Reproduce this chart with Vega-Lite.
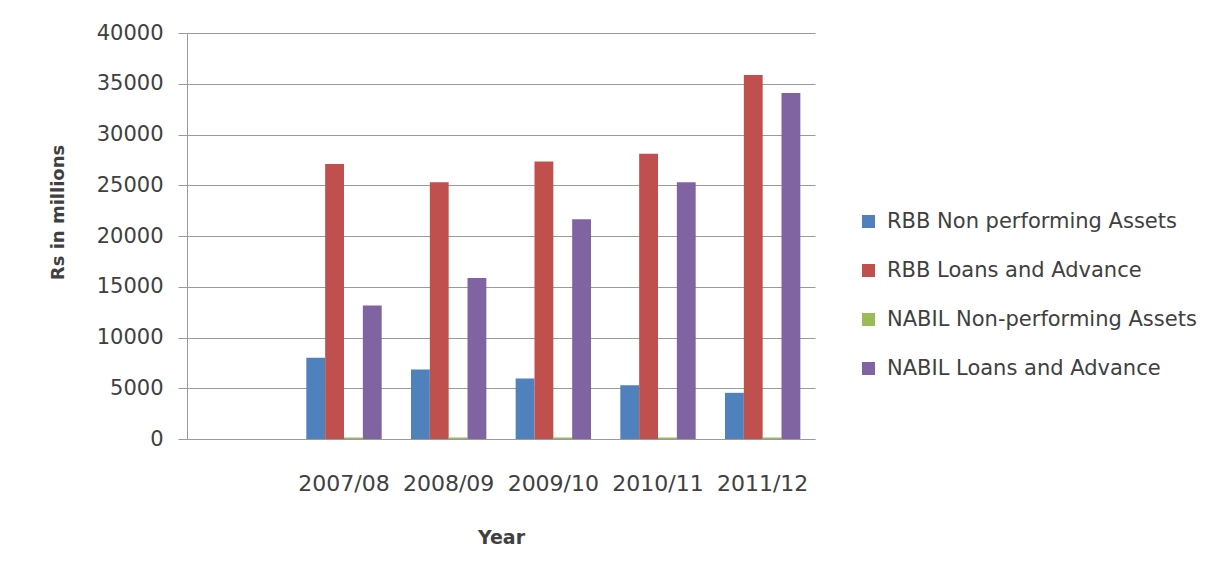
{
  "$schema": "https://vega.github.io/schema/vega-lite/v6.json",
  "width": 628,
  "height": 406,
  "autosize": {"type": "none"},
  "padding": {"left": 187, "top": 33, "right": 412, "bottom": 141},
  "background": "#ffffff",
  "config": {
    "view": {"stroke": null},
    "font": "DejaVu Sans"
  },
  "data": {
    "values": [
      {"year": "2007/08", "series": "RBB Non performing Assets", "value": 8000},
      {"year": "2007/08", "series": "RBB Loans and Advance", "value": 27100},
      {"year": "2007/08", "series": "NABIL Non-performing Assets", "value": 150},
      {"year": "2007/08", "series": "NABIL Loans and Advance", "value": 13150},
      {"year": "2008/09", "series": "RBB Non performing Assets", "value": 6850},
      {"year": "2008/09", "series": "RBB Loans and Advance", "value": 25300},
      {"year": "2008/09", "series": "NABIL Non-performing Assets", "value": 150},
      {"year": "2008/09", "series": "NABIL Loans and Advance", "value": 15850},
      {"year": "2009/10", "series": "RBB Non performing Assets", "value": 5950},
      {"year": "2009/10", "series": "RBB Loans and Advance", "value": 27350},
      {"year": "2009/10", "series": "NABIL Non-performing Assets", "value": 150},
      {"year": "2009/10", "series": "NABIL Loans and Advance", "value": 21650},
      {"year": "2010/11", "series": "RBB Non performing Assets", "value": 5300},
      {"year": "2010/11", "series": "RBB Loans and Advance", "value": 28100},
      {"year": "2010/11", "series": "NABIL Non-performing Assets", "value": 150},
      {"year": "2010/11", "series": "NABIL Loans and Advance", "value": 25300},
      {"year": "2011/12", "series": "RBB Non performing Assets", "value": 4550},
      {"year": "2011/12", "series": "RBB Loans and Advance", "value": 35850},
      {"year": "2011/12", "series": "NABIL Non-performing Assets", "value": 150},
      {"year": "2011/12", "series": "NABIL Loans and Advance", "value": 34100}
    ]
  },
  "mark": {"type": "bar"},
  "encoding": {
    "x": {
      "field": "year",
      "type": "nominal",
      "scale": {
        "domain": [" ", "2007/08", "2008/09", "2009/10", "2010/11", "2011/12"],
        "paddingInner": 0.28,
        "paddingOuter": 0.14
      },
      "axis": {
        "title": "Year",
        "titleFont": "DejaVu Sans",
        "titleFontSize": 19,
        "titleFontWeight": "bold",
        "titleColor": "#404040",
        "titleY": 104,
        "titleBaseline": "alphabetic",
        "labelAngle": 0,
        "labelFontSize": 22,
        "labelColor": "#404040",
        "labelBaseline": "alphabetic",
        "tickSize": 0,
        "ticks": false,
        "labelPadding": 51,
        "domainColor": "#9a9a9a",
        "grid": false
      }
    },
    "xOffset": {
      "field": "series",
      "type": "nominal",
      "scale": {
        "domain": ["RBB Non performing Assets", "RBB Loans and Advance", "NABIL Non-performing Assets", "NABIL Loans and Advance"],
        "paddingInner": 0,
        "paddingOuter": 0
      }
    },
    "y": {
      "field": "value",
      "type": "quantitative",
      "scale": {"domain": [0, 40000], "nice": false},
      "axis": {
        "title": "Rs in millions",
        "titleFontSize": 18,
        "titleFontWeight": "bold",
        "titleColor": "#404040",
        "titleAngle": -90,
        "titleX": -129,
        "titleY": 179,
        "titleAlign": "center",
        "titleBaseline": "middle",
        "values": [0, 5000, 10000, 15000, 20000, 25000, 30000, 35000, 40000],
        "format": "d",
        "labelFontSize": 21,
        "labelColor": "#404040",
        "tickSize": 9,
        "tickColor": "#9a9a9a",
        "labelPadding": 15,
        "domainColor": "#9a9a9a",
        "gridColor": "#9a9a9a",
        "gridWidth": 1
      }
    },
    "color": {
      "field": "series",
      "type": "nominal",
      "scale": {
        "domain": ["RBB Non performing Assets", "RBB Loans and Advance", "NABIL Non-performing Assets", "NABIL Loans and Advance"],
        "range": ["#4F81BD", "#C0504D", "#9BBB59", "#8064A2"]
      },
      "legend": {
        "title": null,
        "orient": "none",
        "legendX": 671,
        "legendY": 178,
        "padding": 0,
        "symbolType": "square",
        "symbolSize": 169,
        "symbolStrokeWidth": 0,
        "labelFontSize": 21,
        "labelColor": "#404040",
        "labelOffset": 8,
        "rowPadding": 27,
        "labelLimit": 400
      }
    }
  }
}
